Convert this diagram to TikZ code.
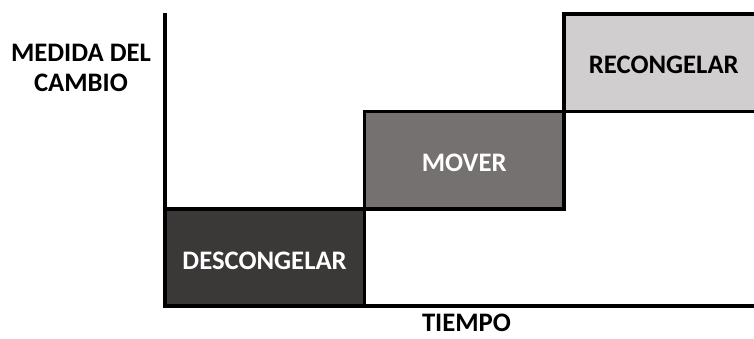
\documentclass[tikz,border=0pt]{standalone}
\usepackage{fontspec}
\setmainfont{Carlito}
\definecolor{cdark}{HTML}{3B3838}
\definecolor{cmid}{HTML}{767171}
\definecolor{clight}{HTML}{D0CECE}
\begin{document}
\begin{tikzpicture}[x=1bp,y=-1bp,
  stage/.style={draw=black,line width=3.5bp,anchor=center,inner sep=0pt,
    minimum width=199.5bp,minimum height=97.3bp,text depth=0pt,
    font=\fontsize{26.8}{30}\selectfont\bfseries},
  lbl/.style={font=\fontsize{26.8}{30}\selectfont\bfseries,align=center,text=black,inner sep=0pt}]
\useasboundingbox (0,0) rectangle (754,338);
\begin{scope}
\clip (0,0) rectangle (754,338);
\node[stage,fill=cdark,text=white,text height=23.8bp] (desc) at (264.6,257.4) {DESCONGELAR};
\node[stage,fill=cmid,text=white,text height=23.4bp] (mov) at (464.2,160.1) {MOVER};
\node[stage,fill=clight,text=black,text height=20.8bp] (reco) at (663.8,62.8) {RECONGELAR};
\coordinate (top) at (164.8,13);
\coordinate (origin) at (164.8,306.1);
\coordinate (right) at (770,306.1);
\draw[line width=3.5bp] (top) -- (origin) -- (right);
\end{scope}
\node[lbl] (yl) at (81,67.6) {MEDIDA DEL\\CAMBIO};
\node[lbl,anchor=base] (xl) at (466.5,331) {TIEMPO};
\end{tikzpicture}
\end{document}
